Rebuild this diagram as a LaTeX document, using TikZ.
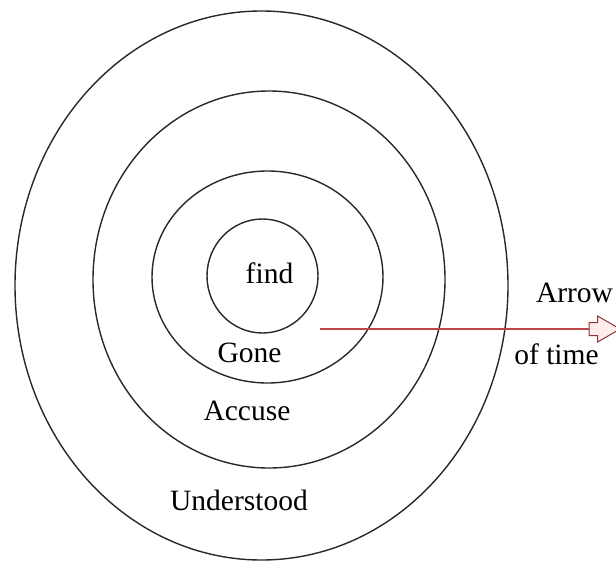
\documentclass[tikz,border=0pt]{standalone}
\usepackage{fontspec}
\setmainfont{Liberation Serif}
\usepackage{xcolor}
\usepackage{tikz}
\usetikzlibrary{shapes.geometric,shapes.arrows}

\definecolor{ringgray}{RGB}{40,40,40}
\definecolor{timered}{RGB}{190,70,70}
\definecolor{tipfill}{RGB}{255,236,236}

\begin{document}
\begin{tikzpicture}[
  x=1pt,y=-1pt,
  ring/.style={ellipse,draw=ringgray,line width=1.4pt,inner sep=0pt},
  lbl/.style={font=\fontsize{29.5}{34}\selectfont,anchor=base,inner sep=0pt},
  timetip/.style={single arrow,draw=timered!75!black,fill=tipfill,line width=1pt,inner xsep=0pt,inner ysep=6pt,
    minimum height=31pt,single arrow head extend=6.5pt,single arrow tip angle=60}
]
\useasboundingbox (0,0) rectangle (616,565);

\node[ring,minimum width=493pt,minimum height=549pt] (understood) at (261.5,285.5) {};
\node[ring,minimum width=352pt,minimum height=377pt] (accuse) at (269,279.5) {};
\node[ring,minimum width=231pt,minimum height=212pt] (gone) at (267.5,277) {};
\node[ring,minimum width=111pt,minimum height=114pt] (find) at (262.5,276) {};

\node[lbl] (tfind) at (269.5,283) {find};
\node[lbl] (tgone) at (249.5,362) {Gone};
\node[lbl] (taccuse) at (247,420) {Accuse};
\node[lbl] (tunder) at (239,510) {Understood};

\coordinate (tstart) at (320,329);
\node[timetip] (tip) at (599,329) {};
\draw[timered,line width=1.1pt] (tstart) -- (tip.west);

\node[lbl] (tarrow) at (574.5,302) {Arrow};
\node[lbl] (ttime) at (556.5,364) {of time};
\end{tikzpicture}
\end{document}
